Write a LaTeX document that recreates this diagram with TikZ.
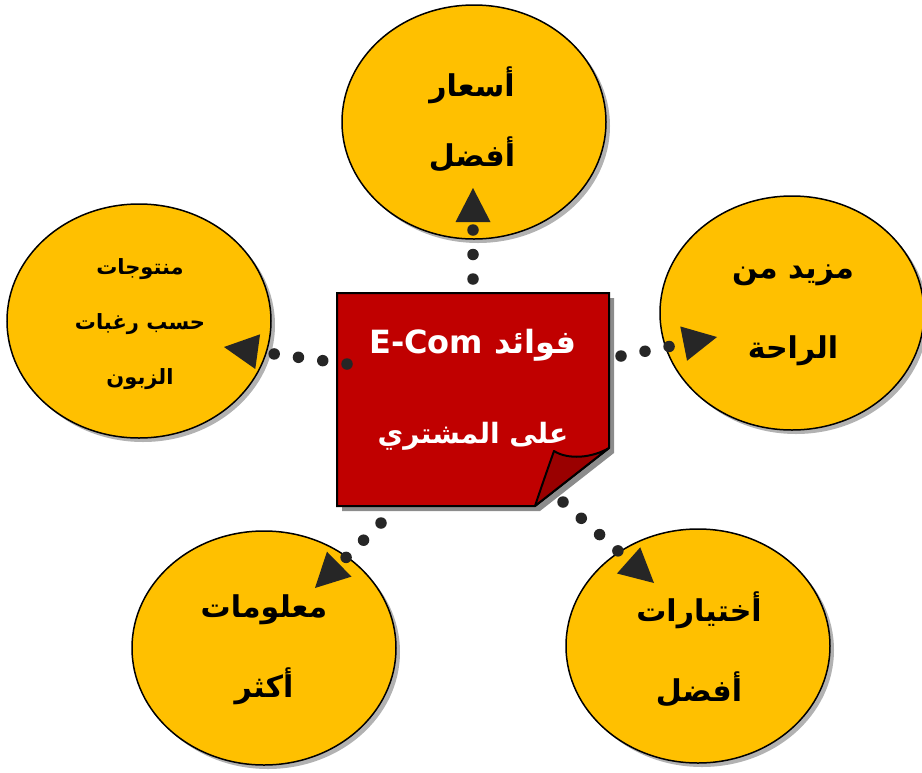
\documentclass[tikz,border=0pt]{standalone}
\usepackage{fontspec}
\usetikzlibrary{shapes.geometric,arrows.meta,shadows}
\newfontfamily\arab[Script=Arabic]{DejaVu Sans}
\TeXXeTstate=1
\definecolor{gold}{HTML}{FFC000}
\definecolor{boxred}{HTML}{C00000}
\definecolor{foldred}{HTML}{9A0000}
\definecolor{dotcol}{HTML}{262626}
\begin{document}
\begin{tikzpicture}[x=1pt,y=-1pt,
  bubble/.style={ellipse, draw=black, line width=1.5pt, fill=gold, inner sep=0pt,
    minimum width=264pt, minimum height=234pt,
    drop shadow={shadow xshift=4pt, shadow yshift=-4pt, fill=black, opacity=0.3}},
  btext/.style={align=center, text=black, inner sep=0pt,
    font=\arab\bfseries\fontsize{30}{#1}\selectfont},
  smalltext/.style={align=center, text=black, inner sep=0pt,
    font=\arab\bfseries\fontsize{21}{55}\selectfont},
  conn/.style={draw=dotcol, line width=11.5pt, line cap=round, dash pattern=on 0pt off 24.5pt,
    -{Triangle[length=34pt,width=35pt,line width=0pt,fill=dotcol]}},
  boxtext/.style={align=center, text=white, inner sep=0pt,
    font=\arab\bfseries\fontsize{32}{90}\selectfont}
]
\useasboundingbox (0,0) rectangle (922,772);

% ellipses
\node[bubble] (top) at (474,122) {};
\node[bubble] (right) at (792,313) {};
\node[bubble] (left) at (139,321) {};
\node[bubble] (bl) at (264,648) {};
\node[bubble] (br) at (698,646) {};

% ellipse texts
\node[btext=70] (top-t) at (472,119) {\beginR أسعار\endR\\\beginR أفضل\endR};
\node[btext=80] (right-t) at (793,315) {\beginR مزيد من\endR\\\beginR الراحة\endR};
\node[smalltext] (left-t) at (140,324) {\beginR منتوجات\endR\\\beginR حسب رغبات\endR\\\beginR الزبون\endR};
\node[btext=80] (bl-t) at (264,650) {\beginR معلومات\endR\\\beginR أكثر\endR};
\node[btext=80] (br-t) at (699,649) {\beginR أختيارات\endR\\\beginR أفضل\endR};

% central folded note: shadow, body, fold
\fill[black!45] (342,298) -- (614,298) -- (614,453) -- (540,511) -- (342,511) -- cycle;
\draw[line width=2pt, fill=boxred, line join=miter]
  (337,293) -- (609,293) -- (609,448) -- (535,506) -- (337,506) -- cycle;
\draw[line width=2pt, fill=foldred, line join=round]
  (535,506) .. controls (542,485) and (548,468) .. (554,451)
  .. controls (568,460) and (592,458) .. (609,448) -- cycle;
\node[boxtext] (center) at (473,390) {\beginR فوائد \beginL E-Com\endL\endR\\{\fontsize{28}{90}\selectfont\beginR على المشتري\endR}};

% connectors
\coordinate (s1) at (473,279); \coordinate (t1) at (473,188);
\coordinate (s2) at (621,356); \coordinate (t2) at (717,337);
\coordinate (s3) at (347,364); \coordinate (t3) at (224,347);
\coordinate (s4) at (381,523); \coordinate (t4) at (315,588);
\coordinate (s5) at (563,502); \coordinate (t5) at (654,583);
\draw[conn] (s1) -- (t1);
\draw[conn] (s2) -- (t2);
\draw[conn] (s3) -- (t3);
\draw[conn] (s4) -- (t4);
\draw[conn] (s5) -- (t5);
\end{tikzpicture}
\end{document}
